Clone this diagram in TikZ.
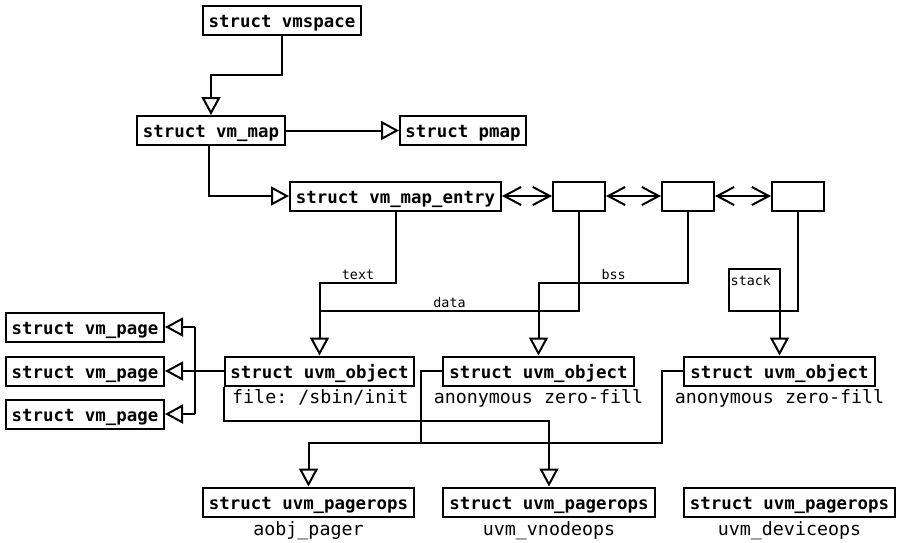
\documentclass[tikz,border=0pt]{standalone}
\usepackage{fontspec}
\setmonofont{DejaVu Sans Mono}
\usetikzlibrary{arrows.meta,calc}

\tikzset{
  structbox/.style={draw, line width=2pt, minimum height=29pt, inner sep=0pt,
    text height=14pt, text depth=0pt,
    font=\ttfamily\bfseries\fontsize{17.4}{20}\selectfont},
  emptybox/.style={draw, line width=2pt, minimum height=29pt, minimum width=52pt, inner sep=0pt},
  caption/.style={inner sep=0pt, anchor=base, font=\ttfamily\fontsize{18.3}{20}\selectfont},
  seglabel/.style={inner sep=0pt, anchor=base, font=\ttfamily\fontsize{13.4}{15}\selectfont},
  wire/.style={line width=2pt, line join=miter},
  arr/.style={wire, -{Triangle[open, length=18pt, width=19pt, line width=2pt]}},
  dbl/.style={wire, {Straight Barb[length=17pt, width=18pt, line width=2pt]}-{Straight Barb[length=17pt, width=18pt, line width=2pt]}}
}

\begin{document}
\begin{tikzpicture}[x=1pt, y=-1pt]
\useasboundingbox (0,0) rectangle (901,542);

% address space, map and pmap
\node[structbox, minimum width=158pt] (vmspace) at (282,20.5) {struct vmspace};
\node[structbox, minimum width=148pt] (vmmap) at (211,130.5) {struct vm\_map};
\node[structbox, minimum width=126pt] (pmap) at (463,130.5) {struct pmap};

% map entries
\node[structbox, minimum width=211pt] (entry) at (395.5,196) {struct vm\_map\_entry};
\node[emptybox] (e1) at (579,196) {};
\node[emptybox] (e2) at (688,196) {};
\node[emptybox] (e3) at (798,196) {};

% stack region
\coordinate (stacktl) at (728.5,268.5);
\coordinate (stackbr) at (779.5,311);
\draw[wire] (stacktl) rectangle (stackbr);
\node[seglabel, anchor=base west] (stacklbl) at (730.5,285.5) {stack};

% pages
\node[structbox, minimum width=158pt] (vp1) at (85,327) {struct vm\_page};
\node[structbox, minimum width=158pt] (vp2) at (85,371) {struct vm\_page};
\node[structbox, minimum width=158pt] (vp3) at (85,414) {struct vm\_page};

% uvm objects
\node[structbox, minimum width=189pt] (uo1) at (319.5,371) {struct uvm\_object};
\node[structbox, minimum width=191pt] (uo2) at (538.5,371) {struct uvm\_object};
\node[structbox, minimum width=191pt] (uo3) at (779.5,371) {struct uvm\_object};
\node[caption, anchor=base west] (uo1lbl) at (232,403) {file: /sbin/init};
\node[caption] (uo2lbl) at (538.5,403) {anonymous zero-fill};
\node[caption] (uo3lbl) at (779.5,403) {anonymous zero-fill};

% pager operations
\node[structbox, minimum width=211pt] (po1) at (308.5,502) {struct uvm\_pagerops};
\node[structbox, minimum width=212pt] (po2) at (549,502) {struct uvm\_pagerops};
\node[structbox, minimum width=211pt] (po3) at (789.5,502) {struct uvm\_pagerops};
\node[caption] (po1lbl) at (308.5,535) {aobj\_pager};
\node[caption] (po2lbl) at (549,535) {uvm\_vnodeops};
\node[caption] (po3lbl) at (789.5,535) {uvm\_deviceops};

% routing rows and columns
\coordinate (toprow) at (0,75);
\coordinate (textrow) at (0,283);
\coordinate (datarow) at (0,311);
\coordinate (filerow) at (0,421);
\coordinate (anonrow) at (0,443);
\coordinate (pagebus) at (195,0);
\coordinate (xa) at (421,0);
\coordinate (xb) at (662,0);

% vmspace -> vm_map -> pmap, entries
\draw[arr] (vmspace.south) -- (vmspace.south |- toprow) -| (vmmap.north);
\draw[arr] (vmmap.east) -- (pmap.west);
\draw[arr] ([xshift=-2pt]vmmap.south) |- (entry.west);

% entry list
\draw[dbl] (entry.east) -- (e1.west);
\draw[dbl] (e1.east) -- (e2.west);
\draw[dbl] (e2.east) -- (e3.west);

% segments to objects
\draw[arr] (entry.south) -- (entry.south |- textrow) -| (uo1.north);
\node[seglabel] (textlbl) at (358,279) {text};
\draw[wire] (e1.south) -- (e1.south |- datarow) -- (uo1.north |- datarow);
\node[seglabel] (datalbl) at (449.5,307.5) {data};
\draw[arr] (e2.south) -- (e2.south |- textrow) -| (uo2.north);
\node[seglabel] (bsslbl) at (613.7,279) {bss};
\draw[wire] (e3.south) |- (stackbr);
\draw[arr] (stackbr) -- (uo3.north);

% object -> pages
\draw[arr] (uo1.west) -- (vp2.east);
\draw[wire] (pagebus |- vp1.east) -- (pagebus |- vp3.east);
\draw[arr] (pagebus |- vp1.east) -- (vp1.east);
\draw[arr] (pagebus |- vp3.east) -- (vp3.east);

% objects -> pager operations
\draw[arr] (uo1.south west) -- (uo1.south west |- filerow) -| (po2.north);
\draw[arr] (uo2.west) -- (xa |- uo2.west) -- (xa |- anonrow) -| (po1.north);
\draw[wire] (uo3.west) -| (xb |- anonrow) -- (xa |- anonrow);
\end{tikzpicture}
\end{document}
